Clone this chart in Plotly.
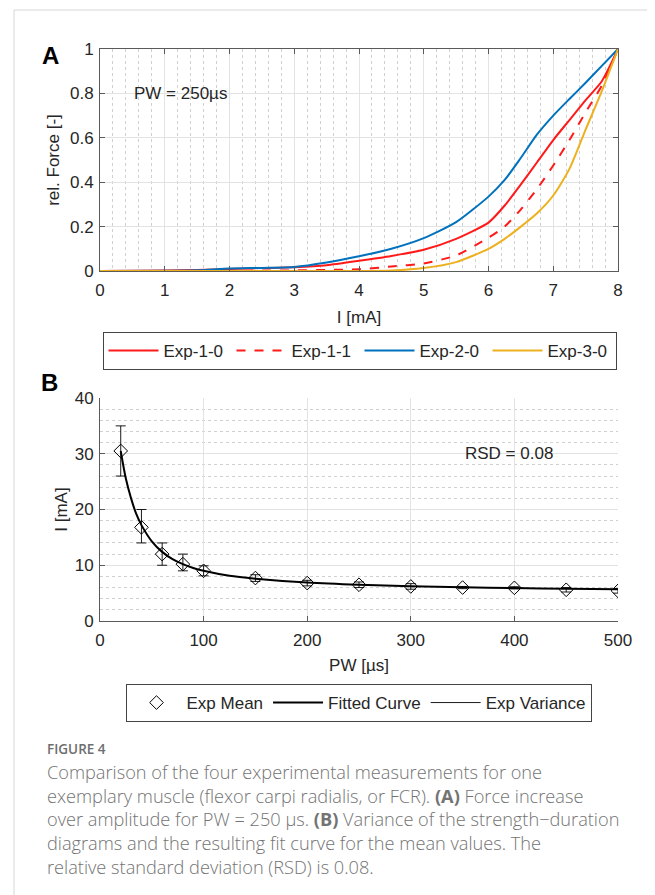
import plotly.graph_objects as go

W, H = 655, 895
OFF = 8  # browser body margin offset

# ---------------- Panel A data ----------------
current_mA = [0, 1, 1.5, 2, 2.5, 3, 3.5, 4, 4.5, 5, 5.5, 6, 6.25, 6.5, 6.75, 7, 7.25, 7.5, 7.75, 8]
exp_1_0 = [0, 0.002, 0.005, 0.009, 0.013, 0.017, 0.026, 0.046, 0.068, 0.096, 0.145, 0.218, 0.295, 0.39, 0.49, 0.59, 0.68, 0.77, 0.855, 1.0]
exp_1_1 = [0, 0, 0, 0.001, 0.002, 0.003, 0.005, 0.008, 0.02, 0.034, 0.07, 0.15, 0.2, 0.278, 0.37, 0.475, 0.59, 0.715, 0.835, 1.0]
exp_2_0 = [0, 0.001, 0.003, 0.011, 0.014, 0.018, 0.038, 0.066, 0.1, 0.148, 0.22, 0.335, 0.41, 0.51, 0.615, 0.70, 0.775, 0.848, 0.924, 1.0]
exp_3_0 = [0, 0, 0, 0, 0, 0, 0, 0, 0.002, 0.013, 0.04, 0.1, 0.145, 0.2, 0.26, 0.34, 0.46, 0.637, 0.81, 1.0]

# ---------------- Panel B data ----------------
pw_us = [20, 40, 60, 80, 100, 150, 200, 250, 300, 350, 400, 450, 500]
mean_mA = [30.5, 16.8, 12.0, 10.2, 9.0, 7.7, 6.8, 6.5, 6.2, 6.0, 5.95, 5.6, 5.4]
var_hi = [35.0, 20.0, 14.0, 12.0, 9.9, 8.3, 7.3, 7.0, 6.7, 6.2, 6.15, 6.0, 5.8]
var_lo = [26.0, 14.0, 10.0, 9.0, 8.1, 7.1, 6.3, 6.0, 5.7, 5.8, 5.75, 5.2, 5.0]
fit_pw = [20, 25, 30, 35, 40, 50, 60, 70, 80, 90, 100, 125, 150, 200, 250, 300, 350, 400, 450, 500]
fit_mA = [30.5, 25.5, 22.0, 19.2, 17.2, 14.3, 12.4, 11.1, 10.2, 9.5, 9.0, 8.1, 7.6, 6.9, 6.5, 6.25, 6.05, 5.9, 5.8, 5.7]

caption_lines = [
    "Comparison of the four experimental measurements for one",
    "exemplary muscle (flexor carpi radialis, or FCR). <b>(A)</b> Force increase",
    "over amplitude for PW = 250 µs. <b>(B)</b> Variance of the strength\u2212duration",
    "diagrams and the resulting fit curve for the mean values. The",
    "relative standard deviation (RSD) is 0.08.",
]


def px(x):
    return (x - OFF) / W


def py(y):
    return 1 - (y - OFF) / H


FONT = "Liberation Sans, Arial, sans-serif"
CAPFONT = "Open Sans, Noto Sans, sans-serif"
AX = "#5a5a5a"
TXT = "#262626"
GRID = "#e3e3e3"
MINOR = "#d0d0d0"
FS = 17

fig = go.Figure()

colors = ["#ff1a1a", "#ff1a1a", "#0072BD", "#EDB120"]
dashes = ["solid", "dash", "solid", "solid"]
names = ["Exp-1-0", "Exp-1-1", "Exp-2-0", "Exp-3-0"]
for ys, c, d, n in zip([exp_1_0, exp_1_1, exp_2_0, exp_3_0], colors, dashes, names):
    fig.add_trace(go.Scatter(x=current_mA, y=ys, mode="lines", name=n,
                             line=dict(color=c, width=2, dash=d, shape="spline", smoothing=0.6),
                             xaxis="x", yaxis="y", legend="legend"))

fig.add_trace(go.Scatter(
    x=pw_us, y=mean_mA, mode="markers", name="Exp Mean",
    marker=dict(symbol="diamond-open", size=10.5, color="black", line=dict(width=1)),
    error_y=dict(type="data", symmetric=False,
                 array=[h - m for h, m in zip(var_hi, mean_mA)],
                 arrayminus=[m - l for l, m in zip(var_lo, mean_mA)],
                 color="black", thickness=0.9, width=5),
    xaxis="x2", yaxis="y2", legend="legend2"))
fig.add_trace(go.Scatter(x=fit_pw, y=fit_mA, mode="lines", name="Fitted Curve",
                         line=dict(color="black", width=2, shape="spline", smoothing=0.8),
                         xaxis="x2", yaxis="y2", legend="legend2"))
fig.add_trace(go.Scatter(x=[None], y=[None], mode="lines", name="Exp Variance",
                         line=dict(color="black", width=0.9),
                         xaxis="x2", yaxis="y2", legend="legend2"))

xdom = [px(100), px(618)]
common = dict(showline=True, linecolor=AX, linewidth=1, ticks="inside", ticklen=5,
              tickcolor=AX, tickfont=dict(family=FONT, size=FS, color=TXT),
              showgrid=True, gridcolor=GRID, gridwidth=1, zeroline=False,
              title_font=dict(family=FONT, size=FS, color=TXT))

fig.update_layout(
    width=W, height=H, margin=dict(l=0, r=0, t=0, b=0, autoexpand=False),
    paper_bgcolor="white", plot_bgcolor="white", showlegend=True,
    xaxis=dict(domain=xdom, anchor="y", range=[0, 8], dtick=1, mirror="ticks",
               minor=dict(dtick=0.2, showgrid=True, gridcolor=MINOR, griddash="dot", ticks=""),
               title=dict(text="I [mA]", standoff=11), ticklabelstandoff=4, **common),
    yaxis=dict(domain=[py(271), py(49)], anchor="x", range=[0, 1], dtick=0.2, mirror="ticks",
               title=dict(text="rel. Force [-]", standoff=6), ticklabelstandoff=2, **common),
    xaxis2=dict(domain=xdom, anchor="y2", range=[0, 500], dtick=100,
                title=dict(text="PW [µs]", standoff=9), ticklabelstandoff=4, **common),
    yaxis2=dict(domain=[py(621), py(398)], anchor="x2", range=[0, 40], dtick=10,
                minor=dict(dtick=2, showgrid=True, gridcolor=MINOR, griddash="dot", ticks=""),
                title=dict(text="I [mA]", standoff=2), ticklabelstandoff=2, **common),
    legend=dict(orientation="h", x=px(359.5), xanchor="center", y=py(332), yanchor="top",
                bordercolor="#444", borderwidth=1, bgcolor="white",
                font=dict(family=FONT, size=FS, color=TXT),
                itemwidth=50, entrywidth=63, entrywidthmode="pixels", tracegroupgap=0),
    legend2=dict(orientation="h", x=px(358.5), xanchor="center", y=py(684), yanchor="top",
                 bordercolor="#444", borderwidth=1, bgcolor="white",
                 font=dict(family=FONT, size=FS, color=TXT),
                 itemwidth=50),
)

ann = []
ann.append(dict(text="PW = 250µs", x=0.5, y=0.8, xref="x", yref="y", xanchor="left", yanchor="middle",
                showarrow=False, font=dict(family=FONT, size=FS, color=TXT)))
ann.append(dict(text="RSD = 0.08", x=350, y=30, xref="x2", yref="y2", xanchor="left", yanchor="middle",
                showarrow=False, font=dict(family=FONT, size=FS, color=TXT)))
ann.append(dict(text="<b>A</b>", x=px(40), y=py(55), xref="paper", yref="paper", xanchor="left",
                yanchor="middle", showarrow=False, font=dict(family=FONT, size=24, color="black")))
ann.append(dict(text="<b>B</b>", x=px(39), y=py(382), xref="paper", yref="paper", xanchor="left",
                yanchor="middle", showarrow=False, font=dict(family=FONT, size=24, color="black")))
ann.append(dict(text="FIGURE 4", x=px(45), y=py(749), xref="paper", yref="paper", xanchor="left",
                yanchor="middle", showarrow=False,
                font=dict(family=CAPFONT, size=13.5, color="#6e6e6e", weight=600)))
ann.append(dict(text="<br>".join(caption_lines), x=px(45), y=py(819), xref="paper", yref="paper",
                xanchor="left", yanchor="middle", align="left", showarrow=False,
                font=dict(family=CAPFONT, size=18.2, color="#737373", weight=300)))
fig.update_layout(annotations=ann)

fig.update_layout(shapes=[
    dict(type="line", xref="paper", yref="paper", x0=px(14), x1=px(14), y0=py(10), y1=py(900),
         line=dict(color="#d6d6d6", width=1)),
    dict(type="line", xref="paper", yref="paper", x0=px(14), x1=px(660), y0=py(10), y1=py(10),
         line=dict(color="#d6d6d6", width=1)),
])

fig.write_html("out.html")
